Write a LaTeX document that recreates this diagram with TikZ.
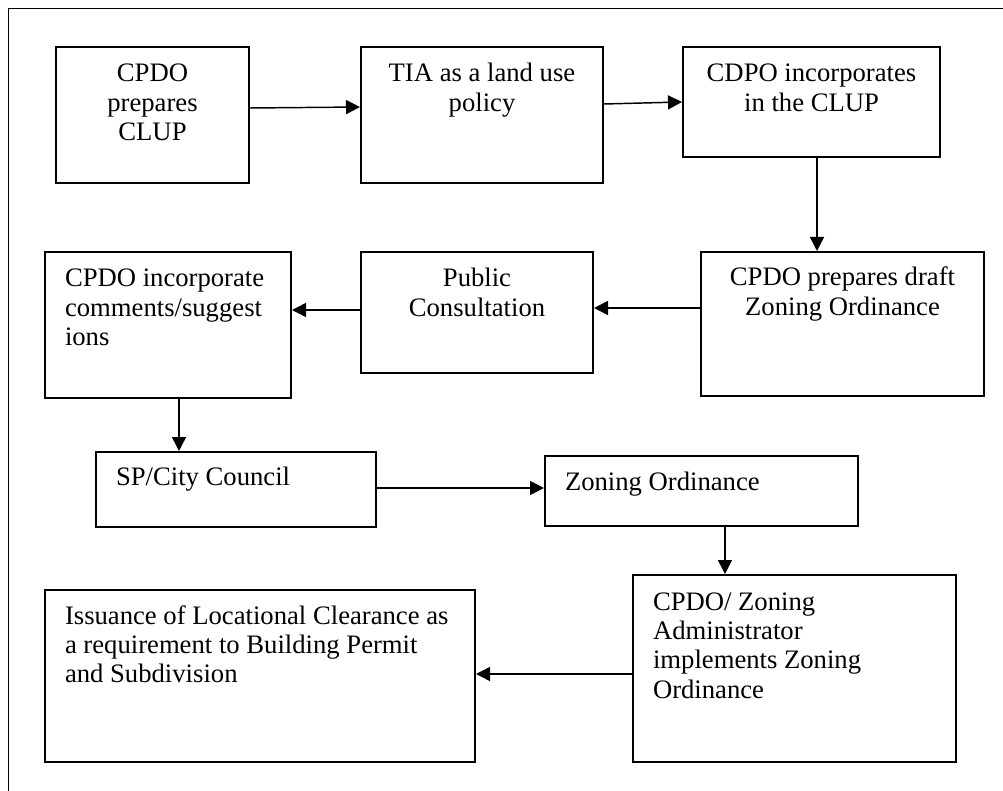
\documentclass[tikz,border=0pt]{standalone}
\usepackage{fontspec}
\setmainfont{Liberation Serif}
\usetikzlibrary{arrows.meta,calc}
\newlength\px
\setlength\px{0.75pt}
\newcommand{\cbx}[4][35]{\parbox[t][#3\px][t]{#2\px}{\centering\rule{0pt}{#1\px}#4}}
\newcommand{\lbx}[4][35]{\parbox[t][#3\px][t]{#2\px}{\raggedright\leftskip=20\px\rule{0pt}{#1\px}#4}}
\tikzset{
  stepbox/.style={draw=black, line width=1.5pt, inner sep=0pt, anchor=north west,
    font=\fontsize{20pt}{22pt}\selectfont},
  arr/.style={line width=1.1pt, -{Triangle[length=10.5pt,width=10.5pt]}},
  frame/.style={line width=1.0pt}
}
\begin{document}
\begin{tikzpicture}[x=0.75pt,y=-0.75pt]
\useasboundingbox (0,0) rectangle (1003,791);
\draw[frame] (8.5,791) -- (8.5,8.5) -- (1003,8.5);
\node[stepbox] (b1) at (55,46) {\cbx{193}{136}{CPDO\\prepares\\CLUP}};
\node[stepbox] (b2) at (360,46) {\cbx{242}{136}{TIA as a land use\\policy}};
\node[stepbox] (b3) at (682,46) {\cbx{257}{110}{CDPO incorporates\\in the CLUP}};
\node[stepbox] (b4) at (700,251) {\cbx[34]{283}{144}{CPDO prepares draft\\Zoning Ordinance}};
\node[stepbox] (b5) at (360,251) {\cbx{232}{121}{Public\\Consultation}};
\node[stepbox] (b6) at (44,251) {\lbx{246}{146}{CPDO incorporate\\comments/suggest\\ions}};
\node[stepbox] (b7) at (95,451) {\lbx[33]{280}{75}{SP/City Council}};
\node[stepbox] (b8) at (544,455) {\lbx[34]{313}{70}{Zoning Ordinance}};
\node[stepbox] (b9) at (632,574) {\lbx{323}{187}{CPDO/ Zoning\\Administrator\\implements Zoning\\Ordinance}};
\node[stepbox] (b10) at (44,589) {\lbx[34]{430}{172}{Issuance of Locational Clearance as\\a requirement to Building Permit\\and Subdivision}};
\draw[arr] ($(b1.east)+(0,-7)$) -- ($(b2.west)+(0,-8)$);
\draw[arr] ($(b2.east)+(0,-11)$) -- (b3.west);
\draw[arr] ($(b3.south)+(5.5,0)$) coordinate (c3) -- (c3 |- b4.north);
\draw[arr] ($(b4.west)+(0,-16)$) coordinate (c4) -- (c4 -| b5.east);
\draw[arr] ($(b5.west)+(0,-2.5)$) coordinate (c5) -- (c5 -| b6.east);
\draw[arr] ($(b6.south)+(11,0)$) coordinate (c6) -- (c6 |- b7.north);
\draw[arr] ($(b7.east)+(0,-1.5)$) coordinate (c7) -- (c7 -| b8.west);
\draw[arr] ($(b8.south)+(23.5,0)$) coordinate (c8) -- (c8 |- b9.north);
\draw[arr] ($(b9.west)+(0,5.5)$) coordinate (c9) -- (c9 -| b10.east);
\end{tikzpicture}
\end{document}
